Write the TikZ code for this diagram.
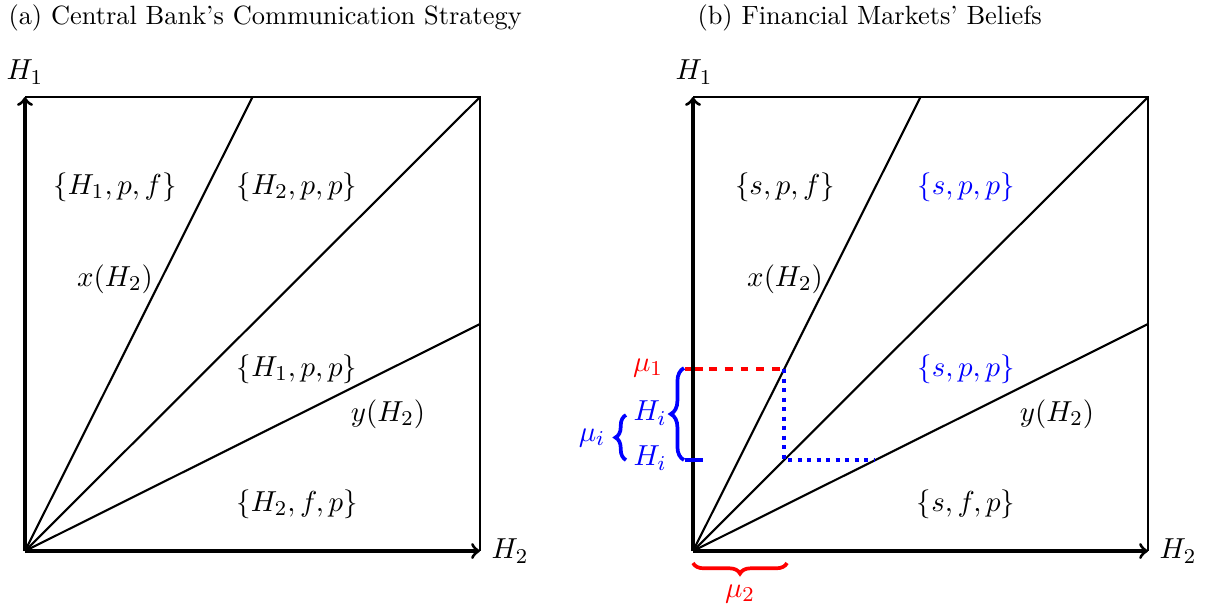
\documentclass[tikz,border=0pt]{standalone}
\usetikzlibrary{decorations.pathreplacing}
\begin{document}
\begin{tikzpicture}[x=0.3788pt,y=-0.3788pt,
  frame/.style={thick},
  ray/.style={thick},
  axis/.style={very thick,->},
  lab/.style={font=\fontsize{10.95}{13}\selectfont, inner sep=0pt},
  ttl/.style={font=\fontsize{10}{12}\selectfont, inner sep=0pt, anchor=west},
  brc/.style={decorate, decoration={brace, amplitude=#1}, line width=1.4pt},
  tick/.style={ultra thick},
  guide/.style={ultra thick}
]
\useasboundingbox (0,0) rectangle (1210,605);

% ---------- panel (a) ----------
\node[ttl] (ta) at (8,18) {(a) Central Bank's Communication Strategy};
\coordinate (Oa) at (25,551);
\coordinate (TLa) at (25,97);
\coordinate (TRa) at (480,97);
\coordinate (BRa) at (480,551);
\coordinate (Xa) at (252.5,97);
\coordinate (Ya) at (480,324);
\draw[frame] (TLa) -- (TRa) -- (BRa);
\draw[ray] (Oa) -- (Xa);
\draw[ray] (Oa) -- (TRa);
\draw[ray] (Oa) -- (Ya);
\draw[axis] (Oa) -- (TLa);
\draw[axis] (Oa) -- (BRa);
\node[lab] (h1a) at (25,72) {$H_1$};
\node[lab] (h2a) at (510,551) {$H_2$};
\node[lab] (a1) at (115,187) {$\{H_1,p,f\}$};
\node[lab] (a2) at (297,187) {$\{H_2,p,p\}$};
\node[lab] (a3) at (115,279) {$x(H_2)$};
\node[lab] (a4) at (297,369) {$\{H_1,p,p\}$};
\node[lab] (a5) at (388,414) {$y(H_2)$};
\node[lab] (a6) at (297,504) {$\{H_2,f,p\}$};

% ---------- panel (b) ----------
\node[ttl] (tb) at (697,18) {(b) Financial Markets' Beliefs};
\coordinate (Ob) at (693,551);
\coordinate (TLb) at (693,97);
\coordinate (TRb) at (1148,97);
\coordinate (BRb) at (1148,551);
\coordinate (Xb) at (920.5,97);
\coordinate (Yb) at (1148,324);
\coordinate (M1) at (693,369);
\coordinate (M1l) at (685,369);
\coordinate (M1r) at (703,369);
\coordinate (Hl) at (685,460);
\coordinate (Hr) at (703,460);
\coordinate (P1) at (784,369);
\coordinate (P2) at (784,460);
\coordinate (P3) at (875,460);
\draw[frame] (TLb) -- (TRb) -- (BRb);
\draw[ray] (Ob) -- (Xb);
\draw[ray] (Ob) -- (TRb);
\draw[ray] (Ob) -- (Yb);
\draw[tick, red] (M1l) -- (M1r);
\draw[guide, red, dashed] (M1) -- (P1);
\draw[guide, blue, dotted] (P1) -- (P2) -- (P3);
\draw[axis] (Ob) -- (TLb);
\draw[axis] (Ob) -- (BRb);
\draw[tick, blue] (Hl) -- (Hr);
\node[lab] (h1b) at (694,72) {$H_1$};
\node[lab] (h2b) at (1178,551) {$H_2$};
\node[lab] (b1) at (785,187) {$\{s,p,f\}$};
\node[lab, blue] (b2) at (966,187) {$\{s,p,p\}$};
\node[lab] (b3) at (785,279) {$x(H_2)$};
\node[lab, blue] (b4) at (966,369) {$\{s,p,p\}$};
\node[lab] (b5) at (1057,414) {$y(H_2)$};
\node[lab] (b6) at (966,504) {$\{s,f,p\}$};

\node[lab, red] (mu1) at (648,368) {$\mu_1$};
\node[lab, blue] (hi1) at (650,413) {$H_i$};
\node[lab, blue] (hi2) at (650,458) {$H_i$};
\node[lab, blue] (mui) at (592,438) {$\mu_i$};
\node[lab, red] (mu2) at (740,594) {$\mu_2$};

\coordinate (B1s) at (684,460);
\coordinate (B1e) at (684,368);
\coordinate (B2s) at (626,460);
\coordinate (B2e) at (626,415);
\coordinate (B3s) at (787,563);
\coordinate (B3e) at (693,563);
\draw[brc=5pt, blue] (B1s) -- (B1e);
\draw[brc=4pt, blue] (B2s) -- (B2e);
\draw[brc=4pt, red] (B3s) -- (B3e);
\end{tikzpicture}
\end{document}
